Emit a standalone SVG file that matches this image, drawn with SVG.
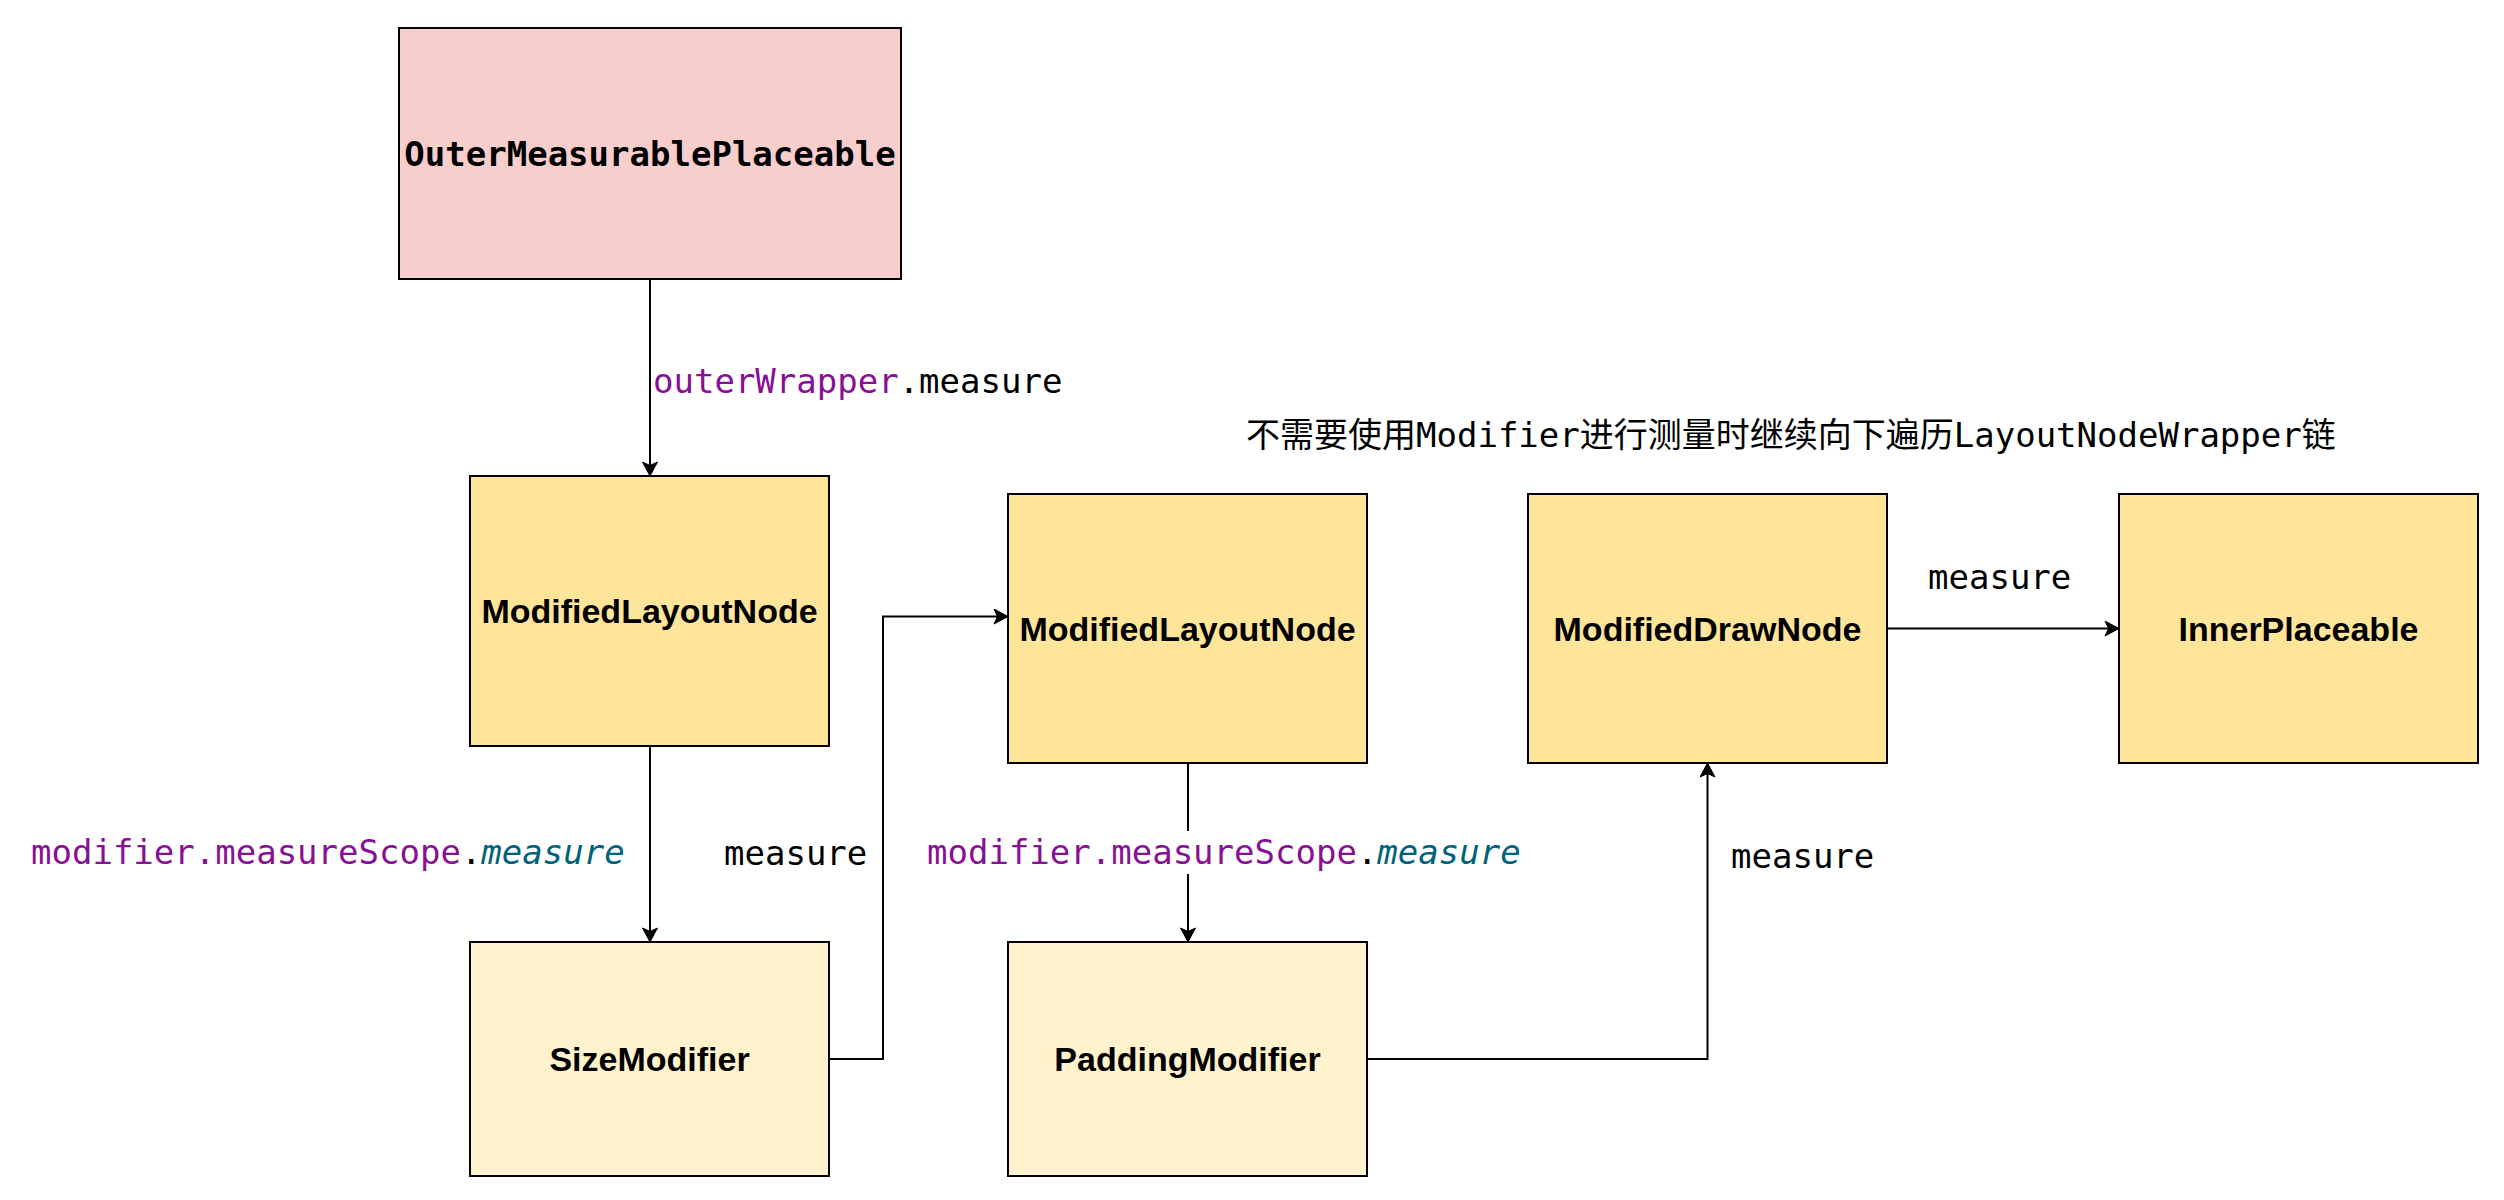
<svg xmlns="http://www.w3.org/2000/svg" width="2504" height="1200" viewBox="0 0 2504 1200">
<style>
.box{stroke:#000;stroke-width:2}
.pink{fill:#F8CECC}
.yel{fill:#FFE599}
.lyel{fill:#FFF2CC}
.bt{font-family:"Liberation Sans",Arial,sans-serif;font-weight:bold;font-size:34px;fill:#000;text-anchor:middle}
.mono{font-family:"DejaVu Sans Mono","Noto Sans CJK SC",monospace;font-size:34px;fill:#000}
.pur{fill:#871094}
.teal{fill:#00627A;font-style:italic}
.edge{fill:none;stroke:#000;stroke-width:2}
</style>
<defs>
<marker id="arr" markerUnits="userSpaceOnUse" markerWidth="16" markerHeight="16" refX="15" refY="8" orient="auto">
<path d="M1,0.5 L15,8 L1,15.5 L4.5,8 Z" fill="#000" stroke="#000" stroke-width="1"/>
</marker>
</defs>
<rect width="2504" height="1200" fill="#fff"/>
<g id="connectors">
<path class="edge" d="M650 279 V476" marker-end="url(#arr)"/>
<path class="edge" d="M650 746 V942" marker-end="url(#arr)"/>
<path class="edge" d="M829 1059 H883 V616.5 H1008" marker-end="url(#arr)"/>
<path class="edge" d="M1188 763 V942" marker-end="url(#arr)"/>
<path class="edge" d="M1367 1059 H1707.5 V763" marker-end="url(#arr)"/>
<path class="edge" d="M1887 628.5 H2119" marker-end="url(#arr)"/>
</g>
<g id="labels">
<text class="mono" x="653" y="393"><tspan class="pur">outerWrapper</tspan>.measure</text>
<text class="mono" x="31" y="864"><tspan class="pur">modifier.measureScope</tspan>.<tspan class="teal">measure</tspan></text>
<text class="mono" x="724" y="865">measure</text>
<rect x="925" y="831" width="596" height="43" fill="#fff"/>
<text class="mono" x="927" y="864"><tspan class="pur">modifier.measureScope</tspan>.<tspan class="teal">measure</tspan></text>
<text class="mono" x="1731" y="868">measure</text>
<text class="mono" x="1928" y="589">measure</text>
<text class="mono" x="1246" y="447">不需要使用Modifier进行测量时继续向下遍历LayoutNodeWrapper链</text>
</g>
<g id="outer">
<rect class="box pink" x="399" y="28" width="502" height="251"/>
<text x="650" y="166" style="font-family:'DejaVu Sans Mono',monospace;font-weight:bold;font-size:34px;text-anchor:middle;fill:#000">OuterMeasurablePlaceable</text>
</g>
<g id="mln1">
<rect class="box yel" x="470" y="476" width="359" height="270"/>
<text class="bt" x="649.5" y="623">ModifiedLayoutNode</text>
</g>
<g id="size">
<rect class="box lyel" x="470" y="942" width="359" height="234"/>
<text class="bt" x="649.5" y="1071">SizeModifier</text>
</g>
<g id="mln2">
<rect class="box yel" x="1008" y="494" width="359" height="269"/>
<text class="bt" x="1187.5" y="641">ModifiedLayoutNode</text>
</g>
<g id="padding">
<rect class="box lyel" x="1008" y="942" width="359" height="234"/>
<text class="bt" x="1187.5" y="1071">PaddingModifier</text>
</g>
<g id="draw">
<rect class="box yel" x="1528" y="494" width="359" height="269"/>
<text class="bt" x="1707.5" y="641">ModifiedDrawNode</text>
</g>
<g id="inner">
<rect class="box yel" x="2119" y="494" width="359" height="269"/>
<text class="bt" x="2298.5" y="641">InnerPlaceable</text>
</g>
</svg>
